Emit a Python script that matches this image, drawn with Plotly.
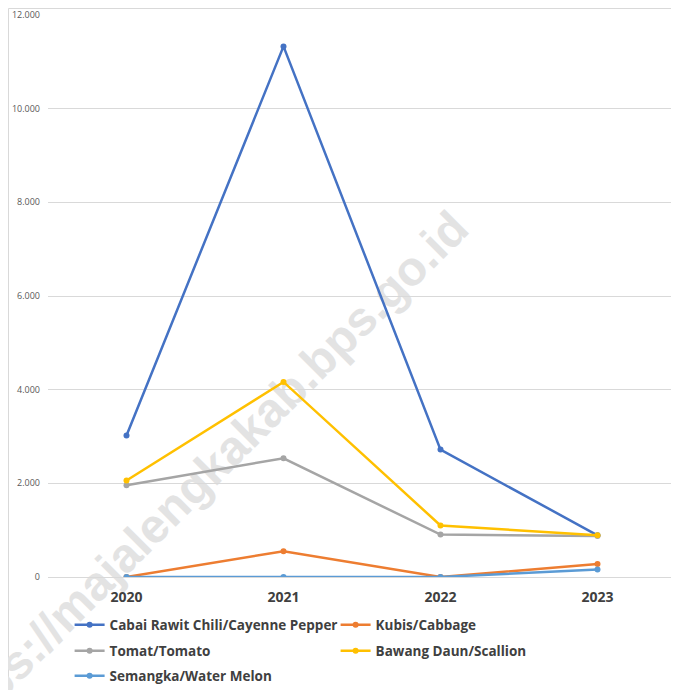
import plotly.graph_objects as go

years = ["2020", "2021", "2022", "2023"]
cabai = [3020, 11330, 2720, 890]
kubis = [0, 550, 0, 278]
tomat = [1960, 2535, 905, 875]
bawang = [2060, 4165, 1100, 890]
semangka = [0, 0, 0, 160]

series = [
    ("Cabai Rawit Chili/Cayenne Pepper", cabai, "#4472C4", "legend"),
    ("Kubis/Cabbage", kubis, "#ED7D31", "legend"),
    ("Tomat/Tomato", tomat, "#A5A5A5", "legend2"),
    ("Bawang Daun/Scallion", bawang, "#FFC000", "legend2"),
    ("Semangka/Water Melon", semangka, "#5B9BD5", "legend3"),
]

fig = go.Figure()
for name, vals, col, lg in series:
    fig.add_trace(go.Scatter(
        x=years, y=vals, name=name, mode="lines+markers",
        line=dict(color=col, width=2.5),
        marker=dict(color=col, size=6),
        legend=lg,
    ))

legfont = dict(family="Open Sans", size=13.5, color="#404040", weight="bold")
def leg(y):
    return dict(orientation="h", x=0.0344, xanchor="left", y=y, yanchor="middle",
                entrywidth=221, entrywidthmode="pixels", font=legfont,
                bgcolor="rgba(0,0,0,0)")

fig.update_layout(
    width=671, height=682,
    margin=dict(l=40, r=3, t=7, b=113, autoexpand=False),
    paper_bgcolor="white", plot_bgcolor="white",
    separators=",.",
    showlegend=True,
    font=dict(family="Open Sans", color="#404040"),
    xaxis=dict(
        type="category", showgrid=False, zeroline=False, showline=False,
        ticks="", tickfont=dict(size=14, color="#404040", weight="bold"),
        range=[-0.5, 3.5], ticklabelstandoff=10,
    ),
    yaxis=dict(
        range=[0, 12000], dtick=2000, tickformat=",d",
        showgrid=True, gridcolor="#D9D9D9", gridwidth=1,
        zeroline=True, zerolinecolor="#D9D9D9", zerolinewidth=1,
        showline=False, ticks="", ticklabelstandoff=7,
        tickfont=dict(size=9, color="#595959"),
    ),
    legend=leg(-0.0854),
    legend2=leg(-0.1317),
    legend3=leg(-0.1762),
    shapes=[
        dict(type="rect", xref="paper", yref="paper",
             x0=-39.5 / 628, y0=-0.4, x1=1.2, y1=1 + 6.5 / 562,
             line=dict(color="#D9D9D9", width=1), layer="below"),
        dict(type="line", xref="paper", yref="paper",
             x0=-0.210, y0=-0.390, x1=0.746, y1=0.678,
             line=dict(color="rgba(0,0,0,0)", width=0), layer="below",
             label=dict(text="https://majalengkakab.bps.go.id",
                        textposition="middle", textangle=-45,
                        font=dict(family="Liberation Sans", size=48,
                                  color="#E3E3E3", weight="bold"))),
    ],
)

fig.write_html("out.html")
